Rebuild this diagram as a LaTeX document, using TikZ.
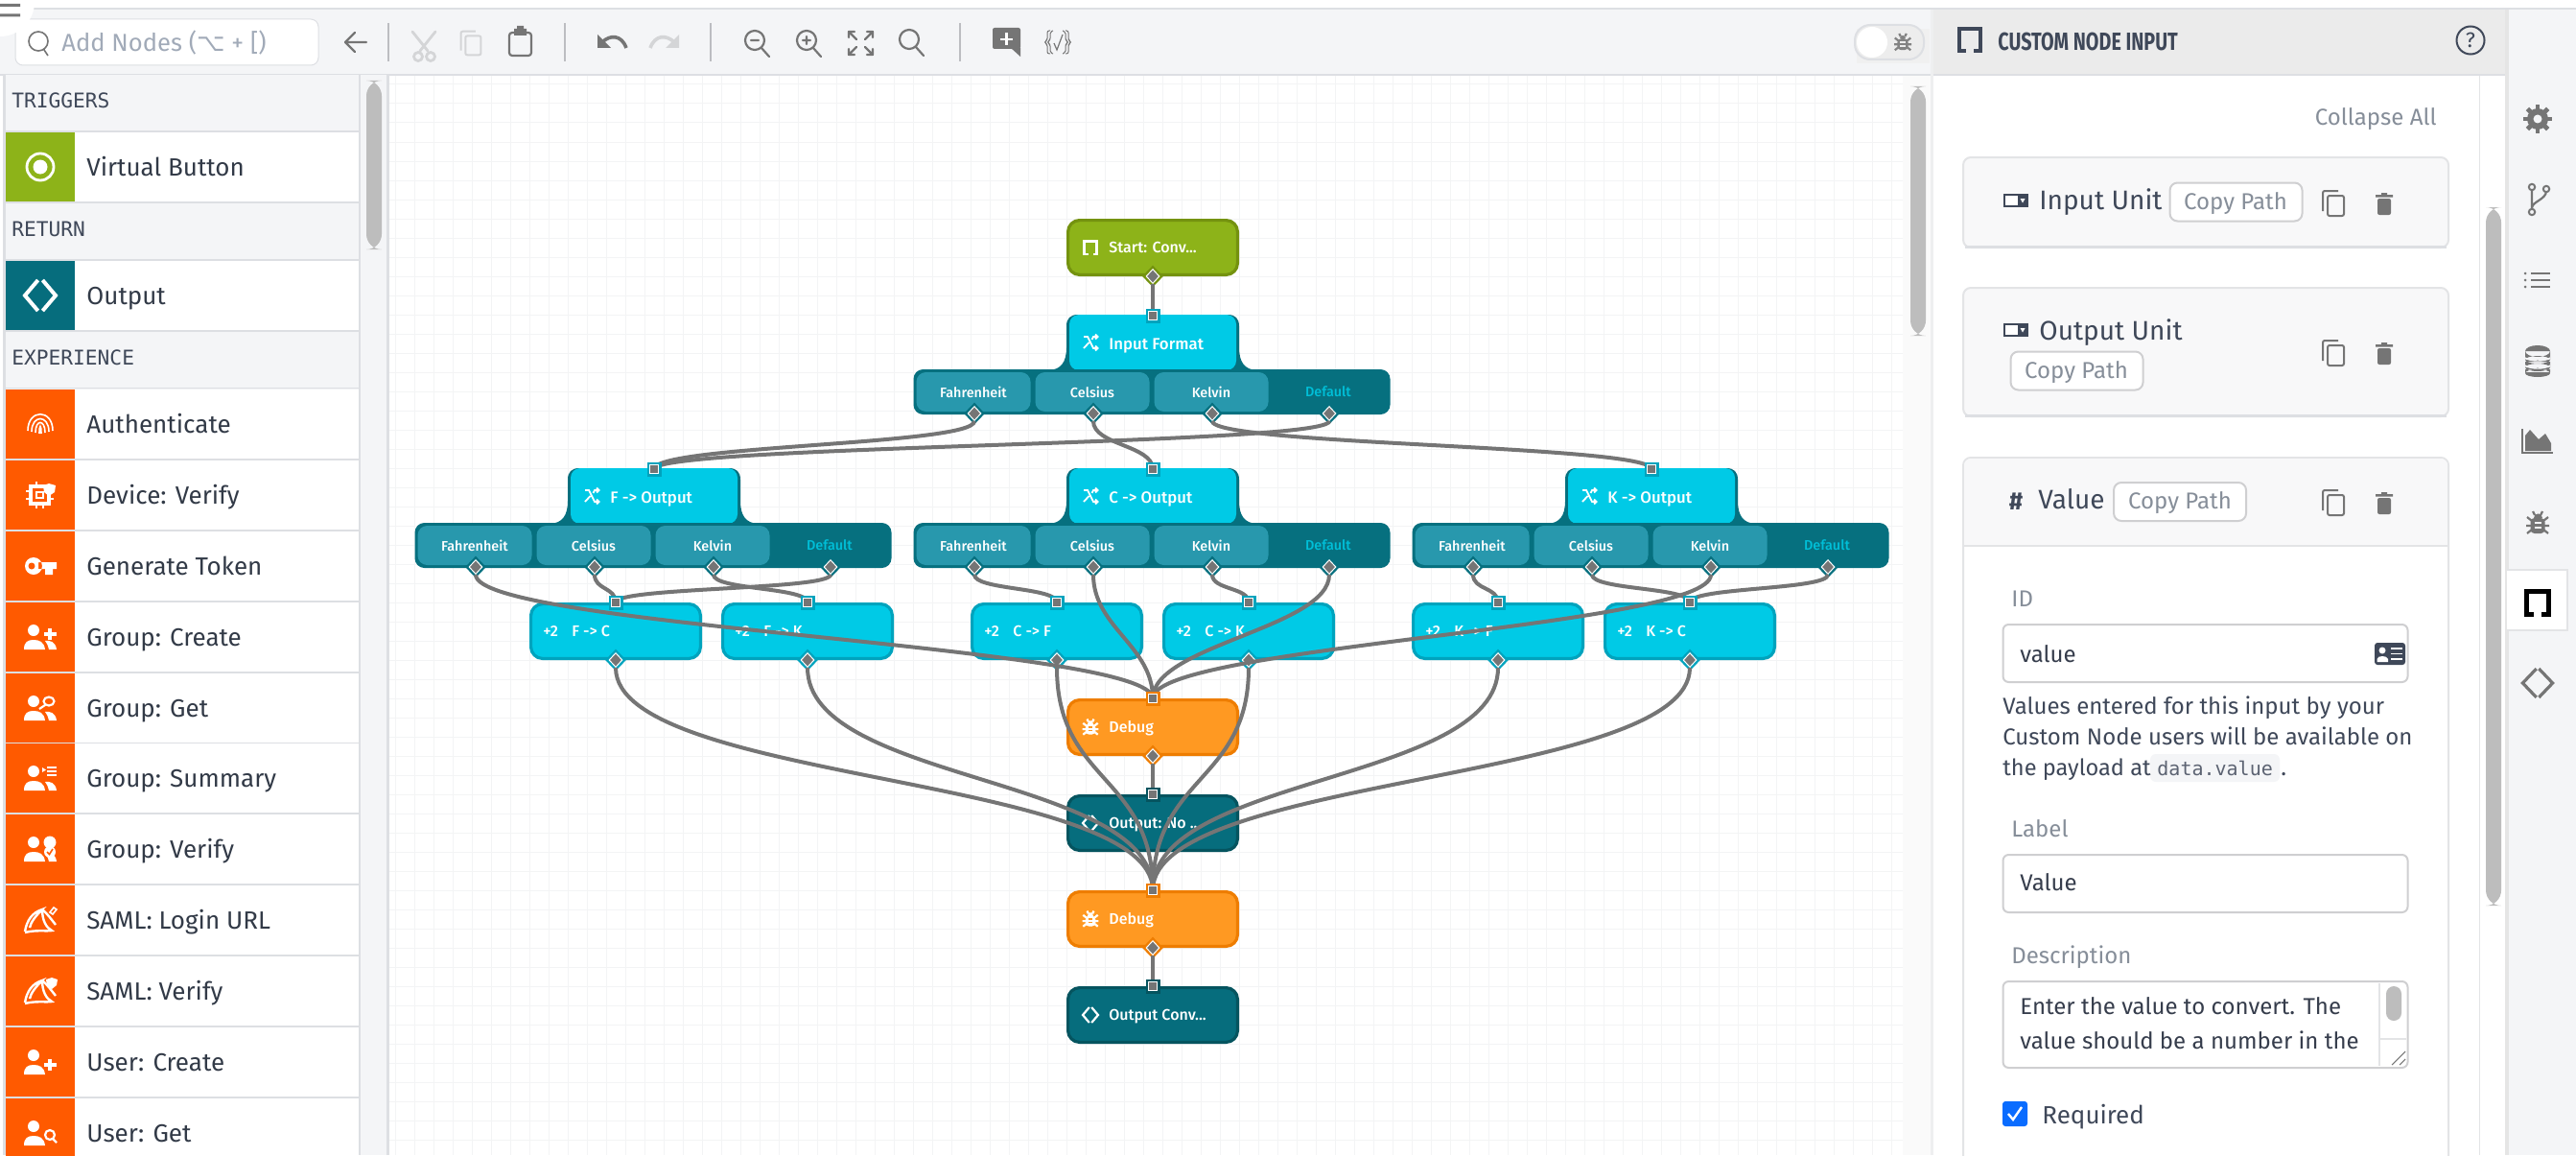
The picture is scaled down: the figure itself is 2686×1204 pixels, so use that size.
\documentclass[tikz,border=0pt]{standalone}
\usepackage{fontspec}
\setmainfont{Fira Sans}
\newfontfamily\medf{Fira Sans Medium}
\newfontfamily\djv{DejaVu Sans}
\newfontfamily\djm{DejaVu Sans Mono}
\usetikzlibrary{shapes.geometric}
\definecolor{uibg}{HTML}{F4F5F7}
\definecolor{uiline}{HTML}{DDDFE3}
\definecolor{gridc}{HTML}{F3F4F5}
\definecolor{ink}{HTML}{3F4859}
\definecolor{soft}{HTML}{868E99}
\definecolor{iconc}{HTML}{757575}
\definecolor{iconoff}{HTML}{D4D5D7}
\definecolor{scrollc}{HTML}{BDBDBD}
\definecolor{grn}{HTML}{8DB319}
\definecolor{grnb}{HTML}{74920F}
\definecolor{cyn}{HTML}{00CAE6}
\definecolor{cynb}{HTML}{00A3BD}
\definecolor{bar}{HTML}{06707F}
\definecolor{tabc}{HTML}{2898AD}
\definecolor{dfl}{HTML}{00BFD8}
\definecolor{org}{HTML}{FF9922}
\definecolor{orgb}{HTML}{EE7D00}
\definecolor{tea}{HTML}{066D7D}
\definecolor{teab}{HTML}{05545F}
\definecolor{hot}{HTML}{FF5A00}
\definecolor{wirec}{HTML}{757575}
\definecolor{cardc}{HTML}{F8F8F9}
\definecolor{cardl}{HTML}{E3E4E6}
\definecolor{boxl}{HTML}{CFCFD1}
\definecolor{chk}{HTML}{0A6CFF}
\tikzset{
  gridl/.style={gridc,line width=.5pt},
  wire/.style={wirec,line width=2pt},
  flownode/.style={rectangle,rounded corners=6pt,minimum width=88.4pt,minimum height=28.4pt,line width=1.6pt,inner sep=0pt},
  dia out/.style={diamond,aspect=1,minimum width=11pt,minimum height=11.5pt,inner sep=0pt},
  dia in/.style={diamond,aspect=1,minimum width=7pt,minimum height=7.5pt,inner sep=0pt,fill=wirec,draw=white,line width=.5pt},
  sq out/.style={rectangle,minimum size=7.5pt,inner sep=0pt},
  sq in/.style={rectangle,minimum size=4.6pt,inner sep=0pt,fill=wirec,draw=white,line width=.5pt},
  tabn/.style={rectangle,rounded corners=5pt,minimum width=59.5pt,minimum height=20.5pt,inner sep=0pt,fill=tabc,text=white,font=\fontsize{7.2}{8}\selectfont\medf},
  uibox/.style={draw=boxl,line width=1pt,fill=white,rounded corners=3pt},
  copybtn/.style={draw=boxl,line width=1pt,fill=white,rounded corners=4pt},
  card/.style={draw=cardl,line width=1pt,fill=cardc,rounded corners=4pt},
  tb/.style={iconc,line width=1.1pt,line cap=round,line join=round},
  tboff/.style={iconoff,line width=1.1pt,line cap=round,line join=round},
}
% text: [anchor]{name}{x}{center y}{size pt}{colour}{text}
\newcommand\lab[7][base west]{\node[anchor=#1,inner sep=0pt,text=#6,font=\fontsize{#5}{#5}\selectfont,yshift=-0.36*#5 pt] (#2) at (#3,#4) {#7};}
% icons, drawn round the origin
\newcommand\icustom[2]{\draw[#1,line width=#2,line cap=butt,line join=miter] (-2.5,7) -- (-6.5,7) -- (-6.5,-6.5) -- (6.5,-6.5) -- (6.5,7) -- (2.5,7);}
\newcommand\ishuffle{\draw[white,line width=.9pt] (-7,-6) -- (-3,-6) -- (3,6) -- (7,6) (-7,6) -- (-1.5,0) (1.5,-3) -- (3,-6) -- (7,-6) (5,-8.5) -- (7.5,-6) -- (5,-3.5) (5,3.5) -- (7.5,6) -- (5,8.5);}
% bug: colour, colour of its stripes
\newcommand\ibug[2]{\fill[#1] (-4.5,-5) .. controls (-4.5,-11) and (4.5,-11) .. (4.5,-5) -- cycle;
 \fill[#1,rounded corners=2pt] (-7.5,-5) rectangle (7.5,11);
 \draw[#1,line width=1.1pt] (-11,-6) -- (-6,-2) (11,-6) -- (6,-2) (-12,3) -- (12,3) (-11,11) -- (-6,7) (11,11) -- (6,7) (-5,-12) -- (-3,-8) (5,-12) -- (3,-8);
 \draw[#2,line width=.9pt] (-3.5,0) -- (3.5,0) (-3.5,5) -- (3.5,5);}
\newcommand\ichev[2]{\draw[#1,line width=#2,line cap=butt,line join=miter] (-1.2,-8) -- (-8,0) -- (-1.2,8) (1.2,-8) -- (8,0) -- (1.2,8);}
\newcommand\icopy[1]{\draw[#1,line width=1pt,rounded corners=1pt] (-11,8) -- (-11,-13) -- (5,-13) (-6,-8) rectangle (11,13);}
\newcommand\itrash[1]{\fill[#1,rounded corners=1pt] (-7,-5) rectangle (7,12); \fill[#1] (-9,-9) rectangle (9,-6.5) (-3,-11) rectangle (3,-9);}
\newcommand\iselect{\draw[ink,line width=.6pt,fill=white] (-12,-6) rectangle (12,6); \fill[ink] (2,-6) rectangle (12,6); \fill[white] (4.5,-2) -- (9.5,-2) -- (7,2.5) -- cycle;}
\newcommand\iperson{\fill[white] (-7,-7) circle (6); \fill[white] (-17,13) .. controls (-17,5) and (-13,3) .. (-7,3) .. controls (-1,3) and (4,5) .. (5,13) -- cycle;}
\newcommand\iside{\fill[white] (-17,13) .. controls (-17,5) and (-13,3) .. (-7,3) .. controls (-1,3) and (4,5) .. (5,13) -- cycle;
 \fill[white] (-7,-7) circle (6); \fill[white] (9,13) .. controls (8,9) and (7,6) .. (5,4) .. controls (10,3) and (16,5) .. (17,13) -- cycle;}
\newcommand\irow[2]{\begin{scope}[shift={(42,#1)}]#2\end{scope}}
\newcommand\isaml{\draw[white,line width=1.2pt] (-16,12) .. controls (-14,0) and (-8,-8) .. (2,-11) .. controls (-4,-5) and (-10,2) .. (-11,8) (-16,13) .. controls (-4,10) and (6,12) .. (12,11) .. controls (6,8) and (2,0) .. (2,-11) (2,-11) .. controls (8,-6) and (12,0) .. (16,5);}
% end node (no outgoing port): name, cx, cy, fill, border, icon, label
\newcommand\termbox[7]{
 \node[flownode,fill=#4,draw=#5] (#1) at (#2,#3) {};
 \lab{#1-t}{#2-46}{#3}{8}{white}{\medf #7}
 \begin{scope}[shift={(#2-65,#3)}]#6\end{scope}
 \coordinate (#1-in) at (#2,#3-30);
}
% flow node with an outgoing port
\newcommand\flowbox[7]{
 \termbox{#1}{#2}{#3}{#4}{#5}{#6}{#7}
 \node[dia out,fill=#5] (#1-oo) at (#2,#3+30) {};
 \node[dia in] (#1-o) at (#2,#3+30) {};
}
\newcounter{pts}
\newcommand\plustwo{\stepcounter{pts}\lab{pt\thepts}{-11}{0}{8}{white}{\medf +2}}
% switch node with its tab bar: name, cx, top y, label
\newcommand\switchn[4]{
 \begin{scope}[shift={(#2,#3)}]
  \fill[bar] (-108,58) .. controls (-96,57) and (-90,50) .. (-90,34) -- (-90,12) .. controls (-90,4) and (-86,0) .. (-78,0) -- (78,0) .. controls (86,0) and (90,4) .. (90,12) -- (90,34) .. controls (90,50) and (96,57) .. (108,58) -- cycle;
  \node[rectangle,rounded corners=5pt,fill=cyn,minimum width=87pt,minimum height=29pt,inner sep=0pt] (#1) at (0,29) {};
  \node[rectangle,rounded corners=5pt,fill=bar,minimum width=248.5pt,minimum height=23.5pt,inner sep=0pt] (#1-bar) at (-1,80.5) {};
  \node[tabn] (#1-a) at (-187,80.5) {Fahrenheit};
  \node[tabn] (#1-b) at (-63,80.5) {Celsius};
  \node[tabn] (#1-c) at (61,80.5) {Kelvin};
  \lab[base]{#1-d}{183}{80.5}{7.2}{dfl}{\medf Default}
  \lab{#1-t}{-46}{30}{8.4}{white}{\medf #4}
  \begin{scope}[shift={(-65,29)}]\ishuffle\end{scope}
  \foreach \p/\px in {pf/-186,pc/-62,pk/62,pd/184}{
   \node[dia out,fill=bar] (#1-\p o) at (\px,103) {};
   \node[dia in] (#1-\p) at (\px,103) {};
  }
  \coordinate (#1-in) at (0,1);
 \end{scope}
}
\newcommand\wireto[3]{\draw[wire] (#1.south) .. controls +(0,#3) and +(0,-#3) .. (#2);}
\newcommand\inport[2]{\node[sq out,fill=#2] (#1-so) at (#1-in) {}; \node[sq in] (#1-si) at (#1-in) {};}
\begin{document}
\begin{tikzpicture}[x=.5pt,y=-.5pt]
\useasboundingbox (0,0) rectangle (2686,1204);
\clip (0,0) rectangle (2686,1204);
\fill[white] (0,0) rectangle (2686,1204);
% canvas grid
\foreach \gx in {412,432,...,1972}{\draw[gridl] (\gx,78) -- (\gx,1204);}
\foreach \gy in {88,108,...,1200}{\draw[gridl] (406,\gy) -- (1984,\gy);}
% toolbar
\fill[uibg] (0,10) rectangle (2015,77);
\fill[uiline] (0,8) rectangle (2686,10);
\fill[uiline] (0,77) rectangle (2015,79);
\node[draw=uiline,line width=.5pt,fill=white,rounded corners=4pt,minimum width=158pt,minimum height=24pt,inner sep=0pt] (search) at (174,44) {};
\draw[iconc,line width=.8pt] (40,43) circle (10) (46,52) -- (50,58);
\lab{searcht}{64}{44}{12.8}{soft!120!black}{Add Nodes ({\djv⌥} + [)}
\draw[tb] (382,44) -- (360,44) (370,34) -- (360,44) -- (370,54);
\foreach \sx in {405,589,741,1001}{\draw[uiline!85!black,line width=.7pt] (\sx,24) -- (\sx,64);}
% scissors
\draw[tboff,line width=1.4pt] (438,53) -- (454,33) (446,53) -- (430,33) (436,59) circle (4.5) (449,59) circle (4.5);
\begin{scope}[shift={(491,45)},scale=.95]\icopy{iconoff}\end{scope}
\draw[tb,rounded corners=1.5pt] (536,34) -- (531,34) -- (531,58) -- (554,58) -- (554,34) -- (549,34);
\fill[iconc] (536,30) rectangle (549,37) (539,27) rectangle (546,31);
% undo / redo
\fill[iconc] (623,36) -- (623,50) -- (637,50) -- cycle;
\draw[iconc,line width=1.8pt] (628,44) .. controls (636,36) and (648,36) .. (653,50);
\fill[iconoff] (708,36) -- (708,50) -- (694,50) -- cycle;
\draw[iconoff,line width=1.8pt] (703,44) .. controls (695,36) and (683,36) .. (678,50);
% zoom
\draw[tb] (787,42) circle (10) (794,50) -- (802,59) (783,42) -- (791,42);
\draw[tb] (841,42) circle (10) (848,50) -- (856,59) (837,42) -- (845,42) (841,38) -- (841,46);
\draw[tb] (885,33) -- (893,41) (885,33) -- (885,39) (885,33) -- (891,33) (910,33) -- (902,41) (910,33) -- (910,39) (910,33) -- (904,33) (885,57) -- (893,49) (885,57) -- (885,51) (885,57) -- (891,57) (910,57) -- (902,49) (910,57) -- (910,51) (910,57) -- (904,57);
\draw[tb] (948,41) circle (10) (955,49) -- (963,58);
% comment, braces
\fill[iconc,rounded corners=1pt] (1035,29) rectangle (1064,51);
\fill[iconc] (1054,50) -- (1064,50) -- (1064,59) -- cycle;
\draw[white,line width=1.4pt] (1043,41) -- (1056,41) (1049.5,34) -- (1049.5,47);
\draw[iconc,line width=.5pt,rounded corners=1pt] (1095,32) -- (1092,32) -- (1092,42) -- (1089,44) -- (1092,46) -- (1092,56) -- (1095,56) (1098,32) -- (1095,33) -- (1095,42) -- (1092,44) -- (1095,46) -- (1095,55) -- (1098,56) (1111,32) -- (1114,32) -- (1114,42) -- (1117,44) -- (1114,46) -- (1114,56) -- (1111,56) (1108,32) -- (1111,33) -- (1111,42) -- (1114,44) -- (1111,46) -- (1111,55) -- (1108,56);
\draw[iconc,line width=.6pt] (1099,45) -- (1102,52) -- (1108,36);
% toggle
\fill[black!6] (1936,30) rectangle (2012,66);
\node[draw=uiline,line width=1pt,fill=black!7,rounded corners=8pt,minimum width=36pt,minimum height=18pt,inner sep=0pt] (tog) at (1970,44) {};
\fill[white] (1952,44) circle (16);
\begin{scope}[shift={(1984,44)},scale=.75]\ibug{iconc!90}{black!7}\end{scope}
% hamburger
\fill[white] (0,2) circle (36);
\fill[iconc] (0,4) rectangle (21,7) (0,14.5) rectangle (21,17.5);
% sidebar
\fill[uibg] (6,78) rectangle (405,1204);
\fill[uiline] (3,78) rectangle (6,1204);
\fill[uiline] (403,78) rectangle (406,1204);
\fill[uiline] (374,78) rectangle (376,1204);
\node[rectangle,rounded corners=8pt,fill=scrollc,minimum width=8pt,minimum height=88pt,inner sep=0pt] (sideScroll) at (390,172) {};
\foreach \hdn/\hdy/\hdt in {h1/105/TRIGGERS,h2/239/RETURN,h3/373/EXPERIENCE}{
 \lab{\hdn}{12}{\hdy}{10.6}{ink}{\djm\hdt}
}
\fill[uiline] (6,136) rectangle (374,138) (6,270) rectangle (374,272) (6,404) rectangle (374,405);
\foreach \rwn/\rwy/\rwc/\rwt in {r0/174/grn/Virtual Button,r1/308/tea/Output,r2/442/hot/Authenticate,r3/516/hot/Device: Verify,r4/590/hot/Generate Token,r5/664/hot/Group: Create,r6/738/hot/Group: Get,r7/811/hot/Group: Summary,r8/885/hot/Group: Verify,r9/959/hot/SAML: Login URL,r10/1033/hot/SAML: Verify,r11/1107/hot/User: Create,r12/1181/hot/User: Get}{
 \fill[white] (78,\rwy-36) rectangle (374,\rwy+36);
 \fill[\rwc] (6,\rwy-36) rectangle (78,\rwy+36);
 \fill[uiline] (6,\rwy+36) rectangle (374,\rwy+38);
 \lab{\rwn}{90}{\rwy}{13}{ink!80!black}{\rwt}
}
\irow{174}{\draw[white,line width=1.4pt] (0,0) ellipse (14 and 14); \fill[white] (0,0) circle (7.5);}
\irow{308}{\begin{scope}[scale=2]\ichev{white}{2pt}\end{scope}}
\irow{442}{\draw[white,line width=.8pt] (-13,7) .. controls (-13,-16) and (13,-16) .. (13,7) (-9,8) .. controls (-9,-10) and (9,-10) .. (9,8) (-5,9) .. controls (-5,-5) and (5,-5) .. (5,9) (-1,10) .. controls (-1,0) and (1,0) .. (1,10);}
\irow{516}{\draw[white,line width=1.6pt,fill=hot] (-10,-9) rectangle (9,9); \draw[white,line width=1.4pt] (-4,-3) rectangle (3,3) (-15,-4) -- (-10,-4) (-15,4) -- (-10,4) (9,4) -- (14,4) (-4,9) -- (-4,14) (3,9) -- (3,14) (-4,-9) -- (-4,-14); \fill[white] (9,-12) -- (16,-10) -- (15,-3) -- (9,1) -- (4,-3) -- (3,-10) -- cycle;}
\irow{590}{\fill[white] (-7,0) ellipse (9 and 9) (-2,-4) rectangle (17,3) (5,3) rectangle (13,9); \fill[hot] (-9,0) circle (3.5);}
\irow{664}{\iside \draw[white,line width=1.6pt] (10,-9) -- (10,3) (4,-3) -- (17,-3);}
\irow{738}{\iside \draw[white,line width=1.1pt] (9,-7) ellipse (5.5 and 4.5) (5,-3) -- (-1,1);}
\irow{811}{\iside \fill[white] (2,-11) -- (6,-8.5) -- (2,-6) -- cycle; \draw[white,line width=.9pt] (7,-11) -- (17,-11) (7,-7) -- (17,-7) (7,-3) -- (17,-3);}
\irow{885}{\iside \fill[white] (10,-7) circle (6.5); \fill[white] (10,3) circle (6); \draw[hot,line width=.8pt] (7,3) -- (9.5,5.5) -- (13,0);}
\irow{959}{\isaml \draw[white,line width=.8pt] (10,-8) -- (14,-13) -- (17,-11) -- (13,-6) -- cycle;}
\irow{1033}{\isaml \fill[white] (12,-14) -- (18,-12) -- (17,-6) -- (12,-2) -- (7,-6) -- (6,-12) -- cycle;}
\irow{1107}{\iperson \draw[white,line width=1.6pt] (10,-3) -- (10,9) (4,3) -- (17,3);}
\irow{1181}{\iperson \draw[white,line width=1.1pt] (10,2) circle (5) (13,6) -- (17,10);}
% canvas edge and right strip
\fill[black!2] (1984,79) rectangle (2015,1204);
\node[rectangle,rounded corners=8pt,fill=scrollc,minimum width=8pt,minimum height=130pt,inner sep=0pt] (canvasScroll) at (2000,220) {};
% right panel
\fill[white] (2015,77) rectangle (2614,1204);
\fill[cardl!60!white] (2013,10) rectangle (2016,1204);
\fill[black!8] (2016,10) rectangle (2614,77);
\fill[uiline] (2016,77) rectangle (2614,79);
\fill[uibg] (2614,10) rectangle (2686,1204);
\fill[black!10] (2612,10) rectangle (2616,1204);
\fill[cardl] (2585,79) rectangle (2586,1204);
\node[rectangle,rounded corners=8pt,fill=scrollc,minimum width=8pt,minimum height=364pt,inner sep=0pt] (panelScroll) at (2600,580) {};
\begin{scope}[shift={(2054,41)},scale=1.7]\icustom{ink}{2pt}\end{scope}
\lab{ptitle}{2083}{43}{13}{ink}{\bfseries\scalebox{.76}[1]{CUSTOM NODE INPUT}}
\draw[ink,line width=1pt] (2576,42) circle (14.5);
\lab[base]{qm}{2576}{42}{11}{ink}{?}
\lab[base east]{collapse}{2541}{122}{12}{soft}{Collapse All}
% tabs of the strip
\begin{scope}[shift={(2646,124)}]\fill[iconc] (0,0) circle (11); \foreach \a in {0,45,...,315}{\draw[iconc,line width=2.4pt] (\a:9) -- (\a:15);} \fill[uibg] (0,0) circle (4.5);\end{scope}
\begin{scope}[shift={(2646,208)}]\draw[iconc,line width=1.1pt] (-6,-11) -- (-6,11) (9,-9) .. controls (9,0) and (-6,2) .. (-6,9); \draw[iconc,line width=1pt,fill=uibg] (-6,-13) circle (3.2) (9,-11) circle (3.2) (-6,13) circle (3.2);\end{scope}
\begin{scope}[shift={(2646,292)}]\draw[iconc,line width=1.2pt] (-7,-7) -- (13,-7) (-7,0) -- (13,0) (-7,7) -- (13,7); \fill[iconc] (-13,-7) circle (1.5) (-13,0) circle (1.5) (-13,7) circle (1.5);\end{scope}
\begin{scope}[shift={(2646,376)}]\fill[iconc] (0,-10) ellipse (13 and 6) (-13,-10) rectangle (13,-1) (0,-1) ellipse (13 and 4) (-13,1) rectangle (13,7) (0,7) ellipse (13 and 4) (-13,9) rectangle (13,12) (0,13) ellipse (13 and 4);\draw[uibg,line width=.7pt] (-13,-3) .. controls (-8,1) and (8,1) .. (13,-3) (-13,5) .. controls (-8,9) and (8,9) .. (13,5);\end{scope}
\begin{scope}[shift={(2646,460)}]\draw[iconc,line width=1pt] (-16,-13) -- (-16,12) -- (16,12); \fill[iconc] (-13,10) -- (-13,-6) -- (-8,-12) -- (1,-2) -- (8,-8) -- (14,2) -- (14,10) -- cycle;\end{scope}
\begin{scope}[shift={(2646,545)}]\ibug{iconc}{uibg}\end{scope}
\fill[white] (2614,594) rectangle (2677,657);
\draw[cardl,line width=1pt] (2614,594) -- (2677,594) -- (2677,657) -- (2614,657);
\begin{scope}[shift={(2646,628)},scale=1.75]\icustom{black}{2.4pt}\end{scope}
\begin{scope}[shift={(2646,712)},scale=1.3]\draw[iconc,line width=1.6pt,line join=miter] (-1,-11.5) -- (-12,0) -- (-1,11.5) (1,-11.5) -- (12,0) -- (1,11.5);\end{scope}
% cards
\draw[card] (2047,164) rectangle (2553,258);
\fill[uiline] (2049,256) rectangle (2551,259);
\draw[card] (2047,300) rectangle (2553,434);
\fill[uiline] (2049,432) rectangle (2551,435);
\filldraw[fill=white,draw=cardl,line width=1pt,rounded corners=4pt] (2047,1230) -- (2047,477) -- (2553,477) -- (2553,1230);
\fill[cardc,rounded corners=3.5pt] (2048,478) rectangle (2552,500);
\fill[cardc] (2048,490) rectangle (2552,569);
\draw[cardl,line width=1pt] (2047,569) -- (2553,569);
% card 1
\begin{scope}[shift={(2102,209)}]\iselect\end{scope}
\lab{iu}{2126}{208}{14}{ink}{Input Unit}
\node[copybtn,minimum width=69pt,minimum height=20pt,inner sep=0pt] (cp1) at (2331.5,210.5) {};
\lab[base]{cp1t}{2331}{210}{12}{soft}{Copy Path}
\begin{scope}[shift={(2433,212)}]\icopy{iconc}\end{scope}
\begin{scope}[shift={(2486,212)}]\itrash{iconc}\end{scope}
% card 2
\begin{scope}[shift={(2102,344)}]\iselect\end{scope}
\lab{ou}{2126}{344}{14}{ink}{Output Unit}
\node[copybtn,minimum width=69pt,minimum height=20pt,inner sep=0pt] (cp2) at (2165.5,386.5) {};
\lab[base]{cp2t}{2165}{386}{12}{soft}{Copy Path}
\begin{scope}[shift={(2433,368)}]\icopy{iconc}\end{scope}
\begin{scope}[shift={(2486,368)}]\itrash{iconc}\end{scope}
% card 3
\lab[base]{hash}{2102}{522}{13}{ink}{\bfseries\#}
\lab{vl}{2125}{520}{14}{ink}{Value}
\node[copybtn,minimum width=69pt,minimum height=20pt,inner sep=0pt] (cp3) at (2273,523) {};
\lab[base]{cp3t}{2273}{522}{12}{soft}{Copy Path}
\begin{scope}[shift={(2433,524)}]\icopy{iconc}\end{scope}
\begin{scope}[shift={(2486,524)}]\itrash{iconc}\end{scope}
\lab{idl}{2097}{624}{12}{soft}{ID}
\node[uibox,minimum width=211pt,minimum height=30pt,inner sep=0pt] (idbox) at (2299.5,681) {};
\lab{idv}{2106}{682}{12}{ink!85!black}{value}
\fill[ink,rounded corners=1.5pt] (2476,670) rectangle (2508,693);
\fill[white] (2484,678) circle (3.5) (2478.5,690) -- (2478.5,687) .. controls (2479,683) and (2489,683) .. (2490,687) -- (2490,690) -- cycle;
\draw[white,line width=.8pt] (2493,676) -- (2505,676) (2493,681.5) -- (2505,681.5) (2493,687) -- (2505,687);
\lab{hp1}{2088}{736}{12}{ink}{Values entered for this input by your}
\lab{hp2}{2088}{768}{12}{ink}{Custom Node users will be available on}
\node[fill=uibg,rounded corners=3pt,minimum width=67.5pt,minimum height=14.5pt,inner sep=0pt] (codebox) at (2309.5,800.5) {};
\lab{hp3}{2088}{800}{11.8}{ink}{the payload at}
\lab{code}{2249}{801}{10}{ink!85}{\djm data.value}
\lab{hp4}{2378}{800}{12}{ink}{.}
\lab{lbl}{2097}{864}{12}{soft}{Label}
\node[uibox,minimum width=211pt,minimum height=30pt,inner sep=0pt] (lblbox) at (2299.5,921) {};
\lab{lblv}{2106}{920}{12}{ink!85!black}{Value}
\lab{dsc}{2097}{996}{12}{soft}{Description}
\node[uibox,minimum width=211pt,minimum height=45pt,inner sep=0pt] (dscbox) at (2299.5,1068) {};
\lab{d1}{2106}{1049}{12}{ink!85!black}{Enter the value to convert. The}
\lab{d2}{2106}{1085}{12}{ink!85!black}{value should be a number in the}
\draw[cardl,line width=.7pt] (2481,1025) -- (2481,1111) (2481,1083) -- (2509,1083);
\node[rectangle,rounded corners=4pt,fill=scrollc,minimum width=8pt,minimum height=18pt,inner sep=0pt] (dscScroll) at (2496,1046) {};
\draw[iconc,line width=.5pt] (2494,1110) -- (2508,1096) (2502,1110) -- (2508,1104);
\node[fill=chk,rounded corners=1.5pt,minimum size=13pt,inner sep=0pt] (chkb) at (2101,1161) {};
\draw[white,line width=1.2pt] (2094,1161) -- (2099,1167) -- (2108,1154);
\lab{req}{2129}{1162}{13}{ink}{Required}
% flow nodes
\flowbox{start}{1202}{258}{grn}{grnb}{\icustom{white}{1.2pt}}{Start: Conv...}
\switchn{inf}{1202}{328}{Input Format}
\switchn{fo}{682}{488}{F -> Output}
\switchn{co}{1202}{488}{C -> Output}
\switchn{ko}{1722}{488}{K -> Output}
\flowbox{fc}{642}{658}{cyn}{cynb}{\plustwo}{F -> C}
\flowbox{fk}{842}{658}{cyn}{cynb}{\plustwo}{F -> K}
\flowbox{cf}{1102}{658}{cyn}{cynb}{\plustwo}{C -> F}
\flowbox{ck}{1302}{658}{cyn}{cynb}{\plustwo}{C -> K}
\flowbox{kf}{1562}{658}{cyn}{cynb}{\plustwo}{K -> F}
\flowbox{kc}{1762}{658}{cyn}{cynb}{\plustwo}{K -> C}
\flowbox{dbg}{1202}{758}{org}{orgb}{\begin{scope}[scale=.7]\ibug{white}{org}\end{scope}}{Debug}
\termbox{ono}{1202}{858}{tea}{teab}{\ichev{white}{1.1pt}}{Output: No ..}
\flowbox{db2}{1202}{958}{org}{orgb}{\begin{scope}[scale=.7]\ibug{white}{org}\end{scope}}{Debug}
\termbox{ocv}{1202}{1058}{tea}{teab}{\ichev{white}{1.1pt}}{Output Conv...}
% connectors
\wireto{start-o}{inf-in}{10}
\wireto{inf-pf}{fo-in}{25}
\wireto{inf-pd}{fo-in}{25}
\wireto{inf-pc}{co-in}{25}
\wireto{inf-pk}{ko-in}{25}
\wireto{fo-pf}{dbg-in}{55}
\wireto{fo-pc}{fc-in}{16}
\wireto{fo-pd}{fc-in}{16}
\wireto{fo-pk}{fk-in}{16}
\wireto{co-pf}{cf-in}{16}
\wireto{co-pc}{dbg-in}{55}
\wireto{co-pk}{ck-in}{16}
\wireto{co-pd}{dbg-in}{55}
\wireto{ko-pf}{kf-in}{16}
\wireto{ko-pc}{kc-in}{16}
\wireto{ko-pk}{dbg-in}{55}
\wireto{ko-pd}{kc-in}{16}
\wireto{fc-o}{db2-in}{120}
\wireto{fk-o}{db2-in}{120}
\wireto{cf-o}{db2-in}{120}
\wireto{ck-o}{db2-in}{120}
\wireto{kf-o}{db2-in}{120}
\wireto{kc-o}{db2-in}{120}
\wireto{dbg-o}{ono-in}{10}
\wireto{db2-o}{ocv-in}{10}
% input ports on top of the connectors
\inport{inf}{cynb}
\inport{fo}{cynb}\inport{co}{cynb}\inport{ko}{cynb}
\inport{fc}{cynb}\inport{fk}{cynb}\inport{cf}{cynb}\inport{ck}{cynb}\inport{kf}{cynb}\inport{kc}{cynb}
\inport{dbg}{orgb}\inport{db2}{orgb}\inport{ono}{teab}\inport{ocv}{teab}
\end{tikzpicture}
\end{document}
